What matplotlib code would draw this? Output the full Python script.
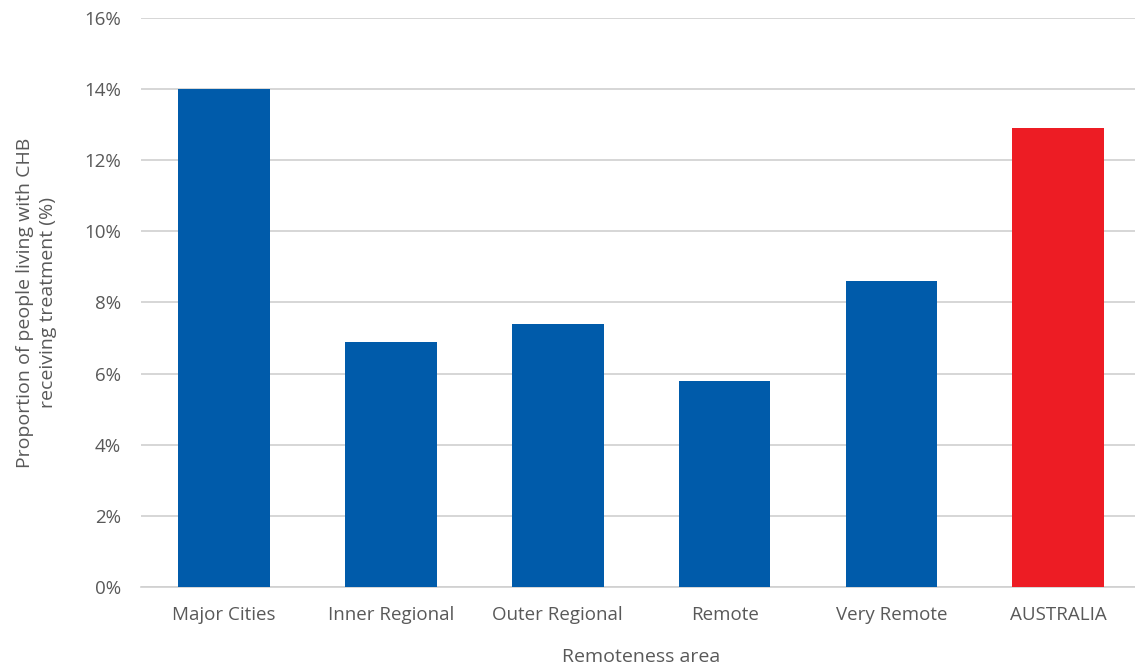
import matplotlib
matplotlib.use("Agg")
import matplotlib.pyplot as plt
from matplotlib.ticker import FuncFormatter

# Tratamiento de hepatitis B crónica por zona de remoteness
areas = ["Major Cities", "Inner Regional", "Outer Regional", "Remote", "Very Remote", "AUSTRALIA"]
porcentajes = [14.0, 6.9, 7.4, 5.8, 8.6, 12.9]
colores = ["#005BAA"] * 5 + ["#ED1C24"]

plt.rcParams["font.family"] = ["Open Sans", "DejaVu Sans"]
gris = "#595959"

fig = plt.figure(figsize=(11.35, 6.66), dpi=100)
ax = fig.add_axes([0.1239, 0.1186, 0.882, 0.8544])

ax.bar(range(len(areas)), porcentajes, width=0.55, color=colores, zorder=3)

ax.set_ylim(0, 16)
ax.set_xlim(-0.5, len(areas) - 0.5)
ax.set_yticks(range(0, 17, 2))
ax.yaxis.set_major_formatter(FuncFormatter(lambda v, p: f"{int(v)}%"))
ax.set_xticks(range(len(areas)))
ax.set_xticklabels(areas)
ax.grid(axis="y", color="#D0D0D0", linewidth=1.2, zorder=0)

for lado in ["top", "right", "left"]:
    ax.spines[lado].set_visible(False)
ax.spines["bottom"].set_color("#D0D0D0")
ax.spines["bottom"].set_linewidth(1.2)

ax.tick_params(axis="both", length=0, labelsize=13.5, colors=gris)
ax.tick_params(axis="y", pad=14)
ax.tick_params(axis="x", pad=14)

ax.set_xlabel("Remoteness area", fontsize=14, color=gris, labelpad=17)
ax.set_ylabel("Proportion of people living with CHB\nreceiving treatment (%)",
              fontsize=14, color=gris, labelpad=20, linespacing=1.3)

fig.savefig("out.png", dpi=100)
